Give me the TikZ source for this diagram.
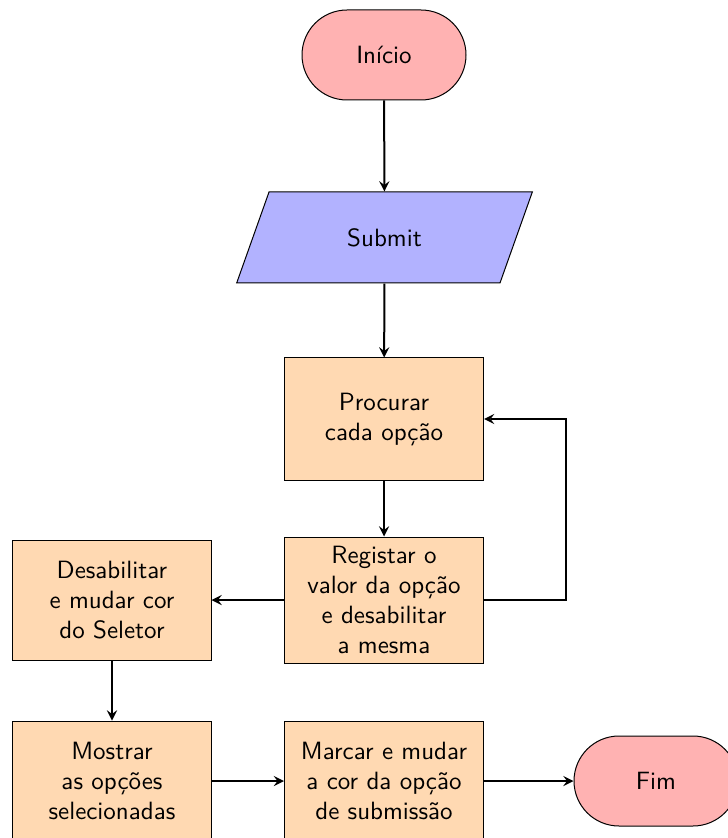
\documentclass[tikz,border=0pt]{standalone}
\usetikzlibrary{shapes.geometric,arrows}
\begin{document}
\begin{tikzpicture}[x=0.4pt,y=-0.4pt,
  font=\sffamily,
  startstop/.style={rectangle, rounded corners=18pt, minimum width=65.6pt, minimum height=36pt, draw=black, fill=red!30, align=center},
  io/.style={trapezium, trapezium left angle=70, trapezium right angle=110, trapezium stretches=true, minimum width=118.8pt, minimum height=36.4pt, draw=black, fill=blue!30},
  process/.style={rectangle, minimum width=79.6pt, minimum height=48.8pt, draw=black, fill=orange!30, align=center},
  flow/.style={thick,->,>=stealth}]
\useasboundingbox (0,0) rectangle (727,838);

\node[startstop] (start) at (384,55) {Início};
\node[io] (submit) at (384.5,237.5) {Submit};
\node[process] (proc) at (384,419) {Procurar\\cada opção};
\node[process, minimum height=50.4pt] (reg) at (384,600) {Registar o\\valor da opção\\e desabilitar\\a mesma};
\node[process, minimum width=79.2pt, minimum height=48pt] (des) at (112,600) {Desabilitar\\e mudar cor\\do Seletor};
\node[process, minimum height=48pt] (most) at (112,781) {Mostrar\\as opções\\selecionadas};
\node[process, minimum height=48pt] (marc) at (384,781) {Marcar e mudar\\a cor da opção\\de submissão};
\node[startstop] (fim) at (656,781) {Fim};

\draw[flow] (start) -- (submit);
\draw[flow] (submit) -- (proc);
\draw[flow] (proc) -- (reg);
\draw[flow] (reg.east) -- ++(82,0) |- (proc.east);
\draw[flow] (reg) -- (des);
\draw[flow] (des) -- (most);
\draw[flow] (most) -- (marc);
\draw[flow] (marc) -- (fim);
\end{tikzpicture}
\end{document}
